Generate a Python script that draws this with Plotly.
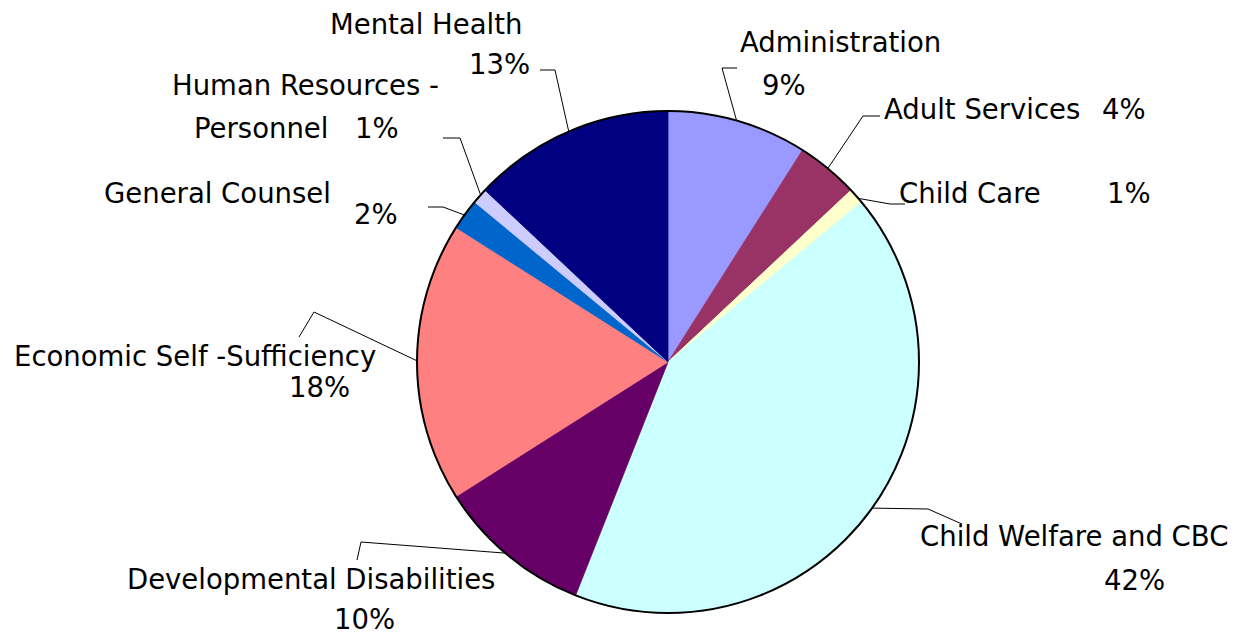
import math
import plotly.graph_objects as go

# ---------------- data ----------------
categories = ["Administration", "Adult Services", "Child Care", "Child Welfare and CBC",
              "Developmental Disabilities", "Economic Self -Sufficiency", "General Counsel",
              "Human Resources - Personnel", "Mental Health"]
values = [9, 4, 1, 42, 10, 18, 2, 1, 13]
colors = ["#9999FF", "#993366", "#FFFFCC", "#CCFFFF", "#660066",
          "#FF8080", "#0066CC", "#CCCCFF", "#000080"]

# ---------------- layout of labels (screen pixels) ----------------
W, H = 1240, 636
OFF = 8  # page body margin offset
CX, CY, R = 668, 362, 251
name_pos = [[(738, 42)], [(882, 109)], [(897, 193)], [(918, 536)], [(125, 579)],
            [(12, 356)], [(102, 193)], [(170, 85), (192, 128)], [(328, 24)]]
pct_pos = [(760, 85), (1100, 109), (1105, 193), (1102, 580), (332, 619),
           (287, 387), (352, 214), (353, 128), (467, 64)]
leader_pts = [((722, 68), (737, 68)), ((863, 116), (880, 116)), ((890, 204), (905, 204)),
              ((928, 509), (962, 524)), ((361, 542), (357, 560)), ((314, 312), (299, 337)),
              ((443, 207), (428, 207)), ((460, 138), (443, 138)), ((555, 70), (540, 70))]

FONT = dict(family="DejaVu Sans", size=27.5, color="#000000")

dom_x = [(CX - OFF - R) / W, (CX - OFF + R) / W]
dom_y = [1 - (CY - OFF + R) / H, 1 - (CY - OFF - R) / H]

fig = go.Figure()
fig.add_trace(go.Pie(
    labels=categories, values=values, sort=False, direction="clockwise", rotation=0,
    marker=dict(colors=colors, line=dict(color=colors, width=0.8)),
    textinfo="none", hoverinfo="label+percent", showlegend=False,
    domain=dict(x=dom_x, y=dom_y)))
# outer outline
fig.add_trace(go.Pie(
    values=[1], sort=False, marker=dict(colors=["rgba(0,0,0,0)"], line=dict(color="#000000", width=2)),
    textinfo="none", hoverinfo="skip", showlegend=False, domain=dict(x=dom_x, y=dom_y)))

# leader lines, start at slice mid-angle on the rim
total = sum(values)
lx, ly = [], []
cum = 0
for v, (elbow, end) in zip(values, leader_pts):
    mid = (cum + v / 2) / total * 2 * math.pi
    cum += v
    sx = CX + R * 0.99 * math.sin(mid)
    sy = CY - R * 0.99 * math.cos(mid)
    lx += [sx, elbow[0], end[0], None]
    ly += [sy, elbow[1], end[1], None]
fig.add_trace(go.Scatter(x=lx, y=ly, mode="lines", line=dict(color="#000000", width=1),
                         hoverinfo="skip", showlegend=False))

annotations = []
for cat, v, npos, ppos in zip(categories, values, name_pos, pct_pos):
    lines = cat.replace(" - ", " -\n").split("\n")
    for text, (x, y) in zip(lines, npos):
        annotations.append(dict(x=x, y=y, xref="x", yref="y", text=text, showarrow=False,
                                xanchor="left", yanchor="middle", font=FONT))
    annotations.append(dict(x=ppos[0], y=ppos[1], xref="x", yref="y", text=f"{v}%",
                            showarrow=False, xanchor="left", yanchor="middle", font=FONT))

fig.update_layout(
    width=W, height=H, margin=dict(l=0, r=0, t=0, b=0),
    paper_bgcolor="#FFFFFF", plot_bgcolor="rgba(0,0,0,0)",
    xaxis=dict(range=[OFF, W + OFF], visible=False, fixedrange=True),
    yaxis=dict(range=[H + OFF, OFF], visible=False, fixedrange=True),
    annotations=annotations, showlegend=False)

fig.write_html("out.html")
